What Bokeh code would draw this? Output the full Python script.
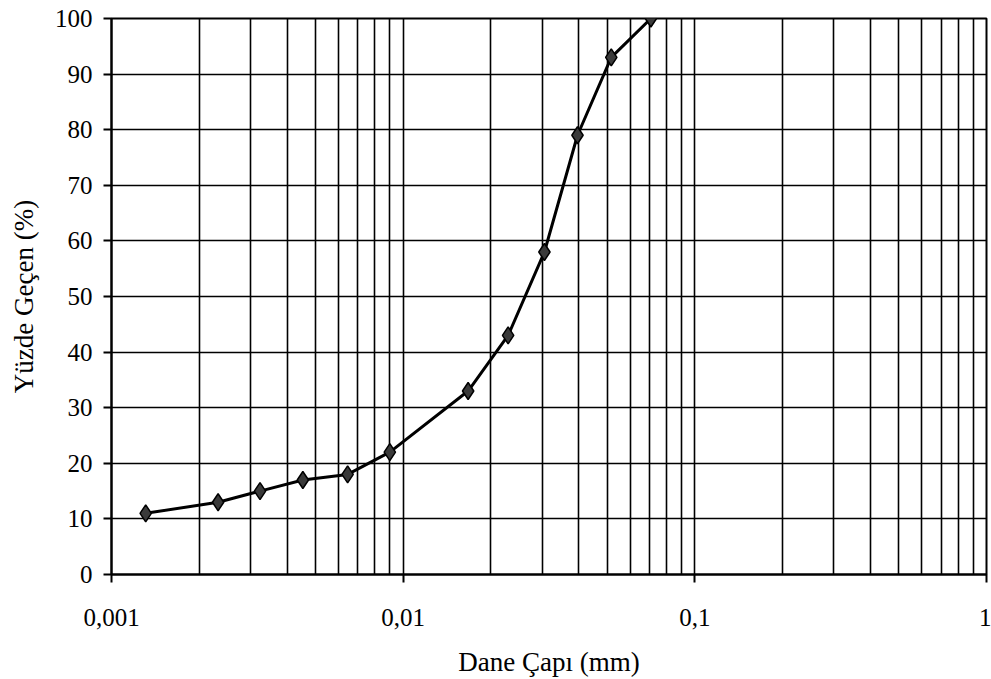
from bokeh.plotting import figure
from bokeh.models import FixedTicker, Range1d
from bokeh.embed import file_html
from bokeh.resources import INLINE

# Data
grain_size_mm = [0.00131, 0.00232, 0.00323, 0.00453, 0.00645, 0.00900,
                 0.0167, 0.0229, 0.0305, 0.0396, 0.0517, 0.0707]
percent_passing = [11, 13, 15, 17, 18, 22, 33, 43, 58, 79, 93, 100]

x_ticks = [0.001, 0.01, 0.1, 1]
x_tick_labels = ["0,001", "0,01", "0,1", "1"]
x_minor = [m * d for d in [0.001, 0.01, 0.1] for m in range(2, 10)]
y_ticks = list(range(0, 101, 10))

FONT = "Liberation Serif"

p = figure(width=991, height=679, x_axis_type="log",
           x_range=Range1d(0.001, 1), y_range=Range1d(0, 100),
           output_backend="svg", toolbar_location=None,
           min_border_left=111, min_border_top=18,
           min_border_right=5, min_border_bottom=104)

p.background_fill_color = "white"
p.border_fill_color = "white"
p.outline_line_color = "black"
p.outline_line_width = 2

xt = FixedTicker(ticks=x_ticks, minor_ticks=x_minor)
p.xaxis.ticker = xt
p.xaxis.major_label_overrides = {t: l for t, l in zip(x_ticks, x_tick_labels)}
p.yaxis.ticker = FixedTicker(ticks=y_ticks)

for ax in (p.xaxis[0], p.yaxis[0]):
    ax.axis_line_color = "black"
    ax.axis_line_width = 2
    ax.major_tick_line_color = "black"
    ax.major_tick_line_width = 2
    ax.major_tick_out = 8
    ax.major_tick_in = 0
    ax.minor_tick_line_color = None
    ax.major_label_text_font = FONT
    ax.major_label_text_font_size = "25px"
    ax.major_label_text_color = "black"
    ax.axis_label_text_font = FONT
    ax.axis_label_text_font_size = "27px"
    ax.axis_label_text_font_style = "normal"
    ax.axis_label_text_color = "black"

p.xaxis.axis_label = "Dane Çapı (mm)"
p.yaxis.axis_label = "Yüzde Geçen (%)"
p.xaxis.major_label_standoff = 26
p.xaxis.axis_label_standoff = 18
p.yaxis.major_label_standoff = 11
p.yaxis.axis_label_standoff = 13

p.xgrid.grid_line_color = "black"
p.xgrid.grid_line_width = 1.6
p.xgrid.minor_grid_line_color = "black"
p.xgrid.minor_grid_line_width = 1.6
p.ygrid.grid_line_color = "black"
p.ygrid.grid_line_width = 1.6

p.line(grain_size_mm, percent_passing, line_color="black", line_width=3)
p.scatter(grain_size_mm, percent_passing, marker="diamond", size=17,
          fill_color="#3a3a3a", line_color="black", line_width=1.5)

open("out.html", "w").write(file_html(p, INLINE))
